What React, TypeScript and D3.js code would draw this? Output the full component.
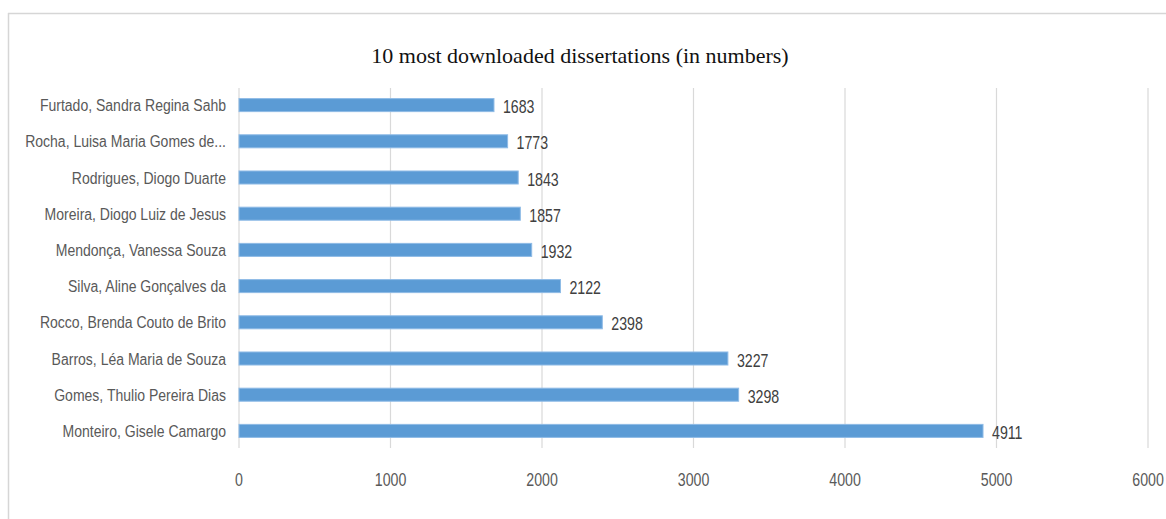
import React from "react";
import * as d3 from "d3";

const categories = [
  "Furtado, Sandra Regina Sahb",
  "Rocha, Luisa Maria Gomes de...",
  "Rodrigues, Diogo Duarte",
  "Moreira, Diogo Luiz de Jesus",
  "Mendonça, Vanessa Souza",
  "Silva, Aline Gonçalves da",
  "Rocco, Brenda Couto de Brito",
  "Barros, Léa Maria de Souza",
  "Gomes, Thulio Pereira Dias",
  "Monteiro, Gisele Camargo",
];
const values = [1683, 1773, 1843, 1857, 1932, 2122, 2398, 3227, 3298, 4911];
const xTicks = [0, 1000, 2000, 3000, 4000, 5000, 6000];
const title = "10 most downloaded dissertations (in numbers)";

const W = 1166;
const H = 519;
const sans = "'Liberation Sans', Arial, sans-serif";
const SX = 0.81;

function NText({ x, y, anchor, children, fill, size = 17 }: any) {
  return (
    <text
      transform={`translate(${x},${y}) scale(${SX},1)`}
      textAnchor={anchor}
      fontFamily={sans}
      fontSize={size}
      fill={fill}
    >
      {children}
    </text>
  );
}

export default function App() {
  const x = d3.scaleLinear().domain([0, 6000]).range([239, 1148]);
  const y = d3.scaleBand<string>().domain(categories).range([87, 449]).paddingInner(0.64).paddingOuter(0.32);
  const gridTop = 88;
  const gridBottom = 448;
  return (
    <svg width={W} height={H} style={{ position: "absolute", left: 0, top: 0, background: "#fff" }}>
      <rect x={0} y={0} width={W} height={H} fill="#fff" />
      <line x1={8} x2={W} y1={13.5} y2={13.5} stroke="#d6d6d6" strokeWidth={1.5} />
      <line x1={8.5} x2={8.5} y1={13} y2={H} stroke="#d6d6d6" strokeWidth={1.5} />
      <text x={580} y={63} textAnchor="middle" fontFamily="'Liberation Serif', 'Times New Roman', serif" fontSize={22} fill="#111">
        {title}
      </text>
      {xTicks.map((t) => (
        <g key={t}>
          <line x1={x(t)} x2={x(t)} y1={gridTop} y2={gridBottom} stroke="#d9d9d9" strokeWidth={1.2} />
          <NText x={x(t)} y={486} anchor="middle" fill="#595959" size={17.5}>
            {t}
          </NText>
        </g>
      ))}
      {categories.map((c, i) => {
        const yy = y(c) as number;
        const bh = y.bandwidth();
        return (
          <g key={c}>
            <rect x={x(0)} y={yy} width={x(values[i]) - x(0)} height={bh} fill="#5b9bd5" stroke="#8fbbe6" strokeWidth={1} />
            <NText x={226} y={yy + bh / 2 + 6} anchor="end" fill="#595959" size={17.3}>
              {c}
            </NText>
            <NText x={x(values[i]) + 9} y={yy + bh / 2 + 8} anchor="start" fill="#404040" size={17.5}>
              {values[i]}
            </NText>
          </g>
        );
      })}
    </svg>
  );
}
